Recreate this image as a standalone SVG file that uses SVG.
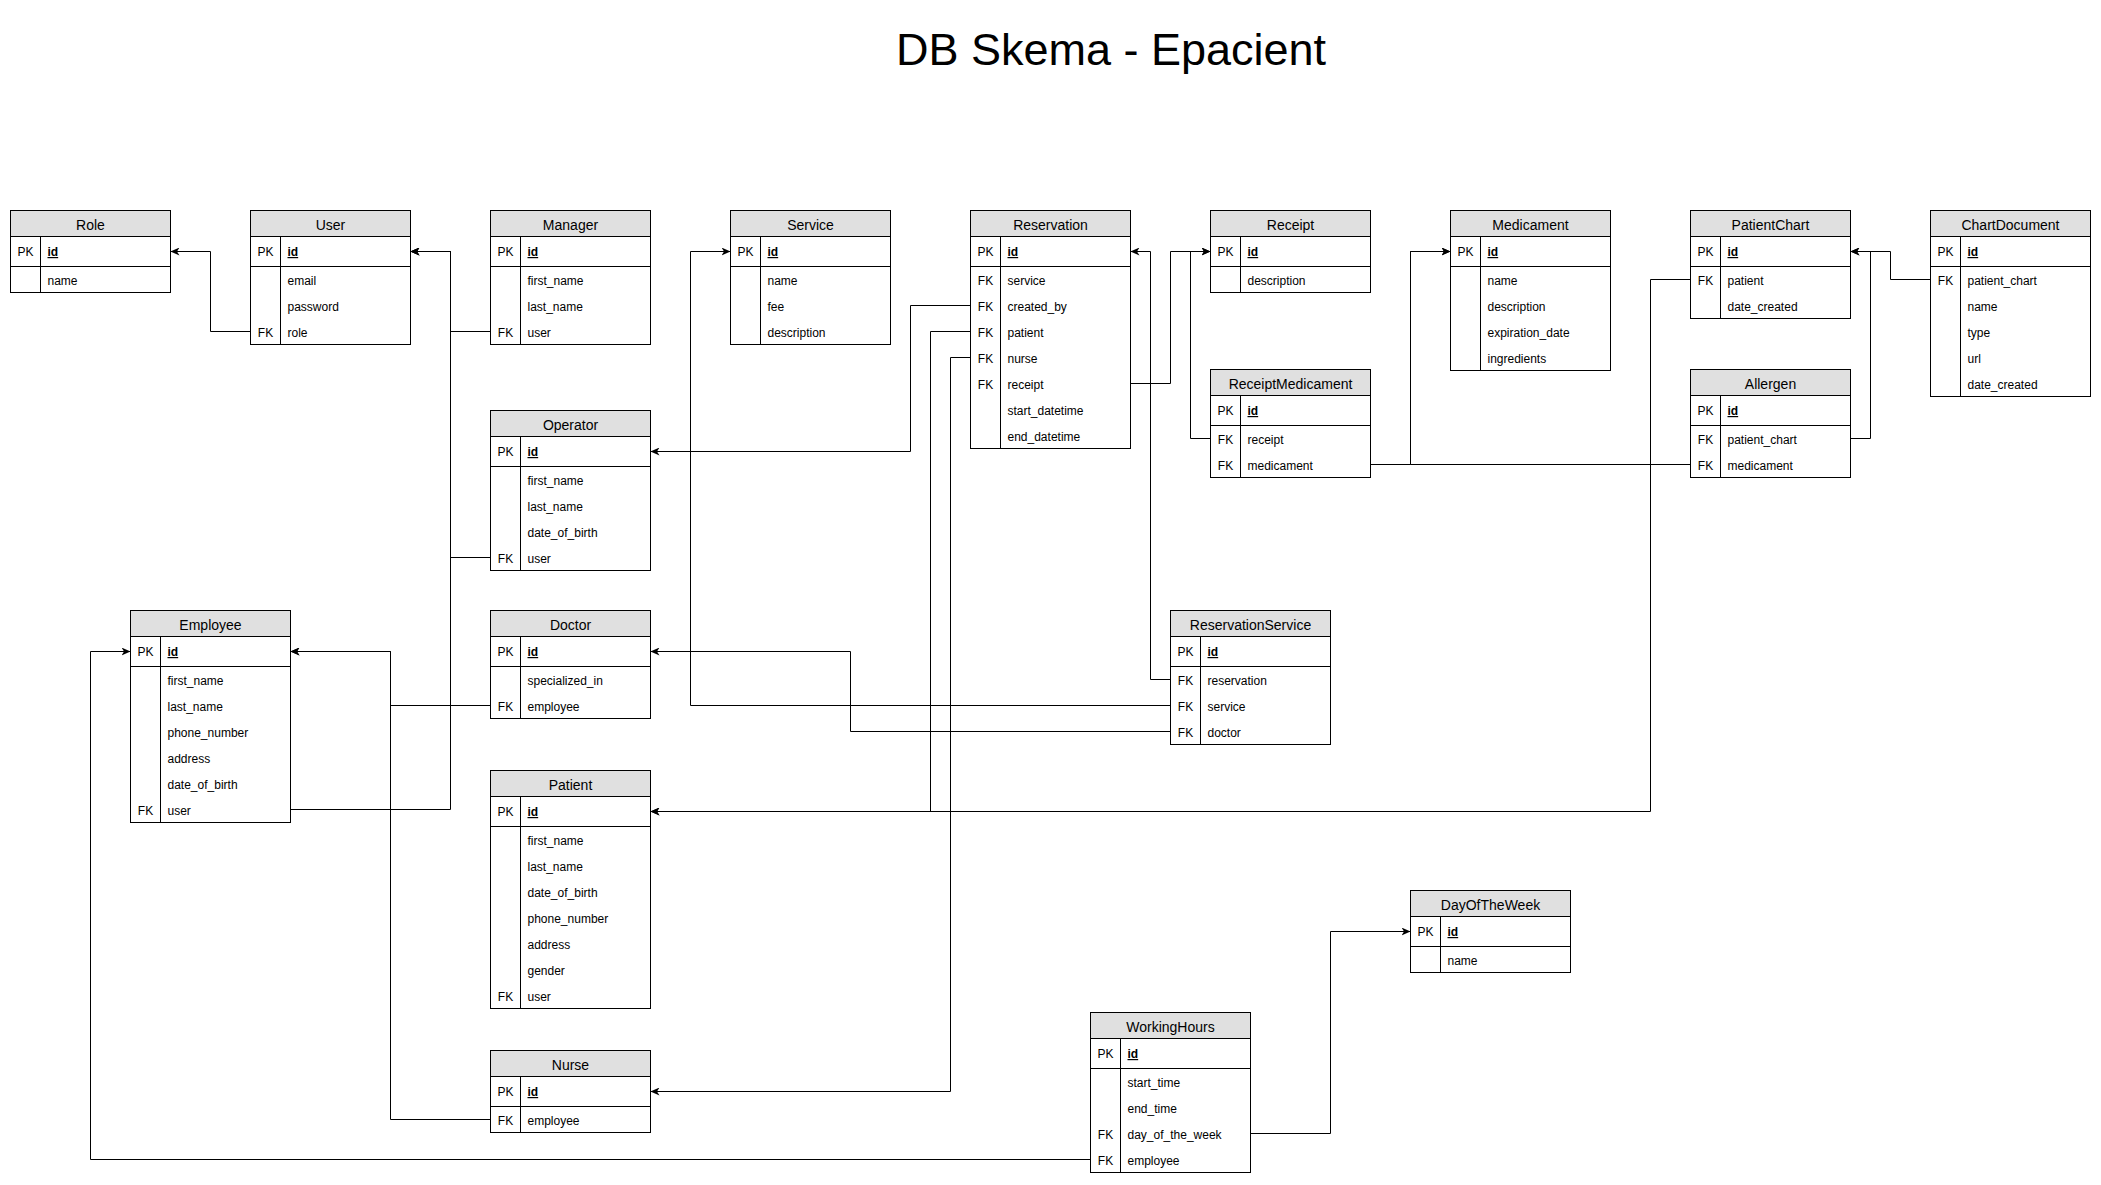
<svg xmlns="http://www.w3.org/2000/svg" width="2101" height="1185" viewBox="0 0 2101 1185">
<style>
.bg{fill:#fff}
.box{fill:#fff;stroke:#000;stroke-width:1}
.hdr{fill:#e0e0e0;stroke:#000;stroke-width:1}
.ln{stroke:#000;stroke-width:1;fill:none}
text{font-family:"Liberation Sans",Arial,Helvetica,sans-serif;fill:#000}
.h{font-size:14px;text-anchor:middle}
.k{font-size:12px;text-anchor:middle}
.f{font-size:12px}
.pk{font-size:12px;font-weight:bold;text-decoration:underline}
.title{font-size:45px;text-anchor:middle}
.edge{fill:none;stroke:#000;stroke-width:1;marker-end:url(#arr)}
</style>
<defs>
<marker id="arr" markerUnits="userSpaceOnUse" viewBox="0 0 9 8" refX="9" refY="4" markerWidth="9" markerHeight="8" orient="auto">
<path d="M0,0 L9,4 L0,8 L2.5,4 Z" fill="#000"/>
</marker>
</defs>
<rect class="bg" x="0" y="0" width="2101" height="1185"/>
<text class="title" x="1111" y="65">DB Skema - Epacient</text>
<g transform="translate(0.5,0.5)">
<g id="role" transform="translate(10,210)">
<rect class="box" width="160" height="82"/><rect class="hdr" width="160" height="26"/>
<line class="ln" x1="0" y1="56" x2="160" y2="56"/><line class="ln" x1="30" y1="26" x2="30" y2="82"/>
<text class="h" x="80" y="19">Role</text>
<text class="k" x="15" y="45.5">PK</text><text class="pk" x="37" y="45.5">id</text>
<text class="f" x="37" y="74.5">name</text>
</g>
<g id="user" transform="translate(250,210)">
<rect class="box" width="160" height="134"/><rect class="hdr" width="160" height="26"/>
<line class="ln" x1="0" y1="56" x2="160" y2="56"/><line class="ln" x1="30" y1="26" x2="30" y2="134"/>
<text class="h" x="80" y="19">User</text>
<text class="k" x="15" y="45.5">PK</text><text class="pk" x="37" y="45.5">id</text>
<text class="f" x="37" y="74.5">email</text>
<text class="f" x="37" y="100.5">password</text>
<text class="k" x="15" y="126.5">FK</text><text class="f" x="37" y="126.5">role</text>
</g>
<g id="manager" transform="translate(490,210)">
<rect class="box" width="160" height="134"/><rect class="hdr" width="160" height="26"/>
<line class="ln" x1="0" y1="56" x2="160" y2="56"/><line class="ln" x1="30" y1="26" x2="30" y2="134"/>
<text class="h" x="80" y="19">Manager</text>
<text class="k" x="15" y="45.5">PK</text><text class="pk" x="37" y="45.5">id</text>
<text class="f" x="37" y="74.5">first_name</text>
<text class="f" x="37" y="100.5">last_name</text>
<text class="k" x="15" y="126.5">FK</text><text class="f" x="37" y="126.5">user</text>
</g>
<g id="service" transform="translate(730,210)">
<rect class="box" width="160" height="134"/><rect class="hdr" width="160" height="26"/>
<line class="ln" x1="0" y1="56" x2="160" y2="56"/><line class="ln" x1="30" y1="26" x2="30" y2="134"/>
<text class="h" x="80" y="19">Service</text>
<text class="k" x="15" y="45.5">PK</text><text class="pk" x="37" y="45.5">id</text>
<text class="f" x="37" y="74.5">name</text>
<text class="f" x="37" y="100.5">fee</text>
<text class="f" x="37" y="126.5">description</text>
</g>
<g id="reservation" transform="translate(970,210)">
<rect class="box" width="160" height="238"/><rect class="hdr" width="160" height="26"/>
<line class="ln" x1="0" y1="56" x2="160" y2="56"/><line class="ln" x1="30" y1="26" x2="30" y2="238"/>
<text class="h" x="80" y="19">Reservation</text>
<text class="k" x="15" y="45.5">PK</text><text class="pk" x="37" y="45.5">id</text>
<text class="k" x="15" y="74.5">FK</text><text class="f" x="37" y="74.5">service</text>
<text class="k" x="15" y="100.5">FK</text><text class="f" x="37" y="100.5">created_by</text>
<text class="k" x="15" y="126.5">FK</text><text class="f" x="37" y="126.5">patient</text>
<text class="k" x="15" y="152.5">FK</text><text class="f" x="37" y="152.5">nurse</text>
<text class="k" x="15" y="178.5">FK</text><text class="f" x="37" y="178.5">receipt</text>
<text class="f" x="37" y="204.5">start_datetime</text>
<text class="f" x="37" y="230.5">end_datetime</text>
</g>
<g id="receipt" transform="translate(1210,210)">
<rect class="box" width="160" height="82"/><rect class="hdr" width="160" height="26"/>
<line class="ln" x1="0" y1="56" x2="160" y2="56"/><line class="ln" x1="30" y1="26" x2="30" y2="82"/>
<text class="h" x="80" y="19">Receipt</text>
<text class="k" x="15" y="45.5">PK</text><text class="pk" x="37" y="45.5">id</text>
<text class="f" x="37" y="74.5">description</text>
</g>
<g id="medicament" transform="translate(1450,210)">
<rect class="box" width="160" height="160"/><rect class="hdr" width="160" height="26"/>
<line class="ln" x1="0" y1="56" x2="160" y2="56"/><line class="ln" x1="30" y1="26" x2="30" y2="160"/>
<text class="h" x="80" y="19">Medicament</text>
<text class="k" x="15" y="45.5">PK</text><text class="pk" x="37" y="45.5">id</text>
<text class="f" x="37" y="74.5">name</text>
<text class="f" x="37" y="100.5">description</text>
<text class="f" x="37" y="126.5">expiration_date</text>
<text class="f" x="37" y="152.5">ingredients</text>
</g>
<g id="patientchart" transform="translate(1690,210)">
<rect class="box" width="160" height="108"/><rect class="hdr" width="160" height="26"/>
<line class="ln" x1="0" y1="56" x2="160" y2="56"/><line class="ln" x1="30" y1="26" x2="30" y2="108"/>
<text class="h" x="80" y="19">PatientChart</text>
<text class="k" x="15" y="45.5">PK</text><text class="pk" x="37" y="45.5">id</text>
<text class="k" x="15" y="74.5">FK</text><text class="f" x="37" y="74.5">patient</text>
<text class="f" x="37" y="100.5">date_created</text>
</g>
<g id="chartdocument" transform="translate(1930,210)">
<rect class="box" width="160" height="186"/><rect class="hdr" width="160" height="26"/>
<line class="ln" x1="0" y1="56" x2="160" y2="56"/><line class="ln" x1="30" y1="26" x2="30" y2="186"/>
<text class="h" x="80" y="19">ChartDocument</text>
<text class="k" x="15" y="45.5">PK</text><text class="pk" x="37" y="45.5">id</text>
<text class="k" x="15" y="74.5">FK</text><text class="f" x="37" y="74.5">patient_chart</text>
<text class="f" x="37" y="100.5">name</text>
<text class="f" x="37" y="126.5">type</text>
<text class="f" x="37" y="152.5">url</text>
<text class="f" x="37" y="178.5">date_created</text>
</g>
<g id="receiptmedicament" transform="translate(1210,369)">
<rect class="box" width="160" height="108"/><rect class="hdr" width="160" height="26"/>
<line class="ln" x1="0" y1="56" x2="160" y2="56"/><line class="ln" x1="30" y1="26" x2="30" y2="108"/>
<text class="h" x="80" y="19">ReceiptMedicament</text>
<text class="k" x="15" y="45.5">PK</text><text class="pk" x="37" y="45.5">id</text>
<text class="k" x="15" y="74.5">FK</text><text class="f" x="37" y="74.5">receipt</text>
<text class="k" x="15" y="100.5">FK</text><text class="f" x="37" y="100.5">medicament</text>
</g>
<g id="allergen" transform="translate(1690,369)">
<rect class="box" width="160" height="108"/><rect class="hdr" width="160" height="26"/>
<line class="ln" x1="0" y1="56" x2="160" y2="56"/><line class="ln" x1="30" y1="26" x2="30" y2="108"/>
<text class="h" x="80" y="19">Allergen</text>
<text class="k" x="15" y="45.5">PK</text><text class="pk" x="37" y="45.5">id</text>
<text class="k" x="15" y="74.5">FK</text><text class="f" x="37" y="74.5">patient_chart</text>
<text class="k" x="15" y="100.5">FK</text><text class="f" x="37" y="100.5">medicament</text>
</g>
<g id="operator" transform="translate(490,410)">
<rect class="box" width="160" height="160"/><rect class="hdr" width="160" height="26"/>
<line class="ln" x1="0" y1="56" x2="160" y2="56"/><line class="ln" x1="30" y1="26" x2="30" y2="160"/>
<text class="h" x="80" y="19">Operator</text>
<text class="k" x="15" y="45.5">PK</text><text class="pk" x="37" y="45.5">id</text>
<text class="f" x="37" y="74.5">first_name</text>
<text class="f" x="37" y="100.5">last_name</text>
<text class="f" x="37" y="126.5">date_of_birth</text>
<text class="k" x="15" y="152.5">FK</text><text class="f" x="37" y="152.5">user</text>
</g>
<g id="employee" transform="translate(130,610)">
<rect class="box" width="160" height="212"/><rect class="hdr" width="160" height="26"/>
<line class="ln" x1="0" y1="56" x2="160" y2="56"/><line class="ln" x1="30" y1="26" x2="30" y2="212"/>
<text class="h" x="80" y="19">Employee</text>
<text class="k" x="15" y="45.5">PK</text><text class="pk" x="37" y="45.5">id</text>
<text class="f" x="37" y="74.5">first_name</text>
<text class="f" x="37" y="100.5">last_name</text>
<text class="f" x="37" y="126.5">phone_number</text>
<text class="f" x="37" y="152.5">address</text>
<text class="f" x="37" y="178.5">date_of_birth</text>
<text class="k" x="15" y="204.5">FK</text><text class="f" x="37" y="204.5">user</text>
</g>
<g id="doctor" transform="translate(490,610)">
<rect class="box" width="160" height="108"/><rect class="hdr" width="160" height="26"/>
<line class="ln" x1="0" y1="56" x2="160" y2="56"/><line class="ln" x1="30" y1="26" x2="30" y2="108"/>
<text class="h" x="80" y="19">Doctor</text>
<text class="k" x="15" y="45.5">PK</text><text class="pk" x="37" y="45.5">id</text>
<text class="f" x="37" y="74.5">specialized_in</text>
<text class="k" x="15" y="100.5">FK</text><text class="f" x="37" y="100.5">employee</text>
</g>
<g id="reservationservice" transform="translate(1170,610)">
<rect class="box" width="160" height="134"/><rect class="hdr" width="160" height="26"/>
<line class="ln" x1="0" y1="56" x2="160" y2="56"/><line class="ln" x1="30" y1="26" x2="30" y2="134"/>
<text class="h" x="80" y="19">ReservationService</text>
<text class="k" x="15" y="45.5">PK</text><text class="pk" x="37" y="45.5">id</text>
<text class="k" x="15" y="74.5">FK</text><text class="f" x="37" y="74.5">reservation</text>
<text class="k" x="15" y="100.5">FK</text><text class="f" x="37" y="100.5">service</text>
<text class="k" x="15" y="126.5">FK</text><text class="f" x="37" y="126.5">doctor</text>
</g>
<g id="patient" transform="translate(490,770)">
<rect class="box" width="160" height="238"/><rect class="hdr" width="160" height="26"/>
<line class="ln" x1="0" y1="56" x2="160" y2="56"/><line class="ln" x1="30" y1="26" x2="30" y2="238"/>
<text class="h" x="80" y="19">Patient</text>
<text class="k" x="15" y="45.5">PK</text><text class="pk" x="37" y="45.5">id</text>
<text class="f" x="37" y="74.5">first_name</text>
<text class="f" x="37" y="100.5">last_name</text>
<text class="f" x="37" y="126.5">date_of_birth</text>
<text class="f" x="37" y="152.5">phone_number</text>
<text class="f" x="37" y="178.5">address</text>
<text class="f" x="37" y="204.5">gender</text>
<text class="k" x="15" y="230.5">FK</text><text class="f" x="37" y="230.5">user</text>
</g>
<g id="nurse" transform="translate(490,1050)">
<rect class="box" width="160" height="82"/><rect class="hdr" width="160" height="26"/>
<line class="ln" x1="0" y1="56" x2="160" y2="56"/><line class="ln" x1="30" y1="26" x2="30" y2="82"/>
<text class="h" x="80" y="19">Nurse</text>
<text class="k" x="15" y="45.5">PK</text><text class="pk" x="37" y="45.5">id</text>
<text class="k" x="15" y="74.5">FK</text><text class="f" x="37" y="74.5">employee</text>
</g>
<g id="dayoftheweek" transform="translate(1410,890)">
<rect class="box" width="160" height="82"/><rect class="hdr" width="160" height="26"/>
<line class="ln" x1="0" y1="56" x2="160" y2="56"/><line class="ln" x1="30" y1="26" x2="30" y2="82"/>
<text class="h" x="80" y="19">DayOfTheWeek</text>
<text class="k" x="15" y="45.5">PK</text><text class="pk" x="37" y="45.5">id</text>
<text class="f" x="37" y="74.5">name</text>
</g>
<g id="workinghours" transform="translate(1090,1012)">
<rect class="box" width="160" height="160"/><rect class="hdr" width="160" height="26"/>
<line class="ln" x1="0" y1="56" x2="160" y2="56"/><line class="ln" x1="30" y1="26" x2="30" y2="160"/>
<text class="h" x="80" y="19">WorkingHours</text>
<text class="k" x="15" y="45.5">PK</text><text class="pk" x="37" y="45.5">id</text>
<text class="f" x="37" y="74.5">start_time</text>
<text class="f" x="37" y="100.5">end_time</text>
<text class="k" x="15" y="126.5">FK</text><text class="f" x="37" y="126.5">day_of_the_week</text>
<text class="k" x="15" y="152.5">FK</text><text class="f" x="37" y="152.5">employee</text>
</g>
<g id="connectors">
<path class="edge" d="M250,331 H210 V251 H170"/>
<path class="edge" d="M490,331 H450 V251 H410"/>
<path class="edge" d="M490,557 H450 V251 H410"/>
<path class="edge" d="M290,809 H450 V251 H410"/>
<path class="edge" d="M490,705 H390 V651 H290"/>
<path class="edge" d="M490,1119 H390 V651 H290"/>
<path class="edge" d="M1090,1159 H90 V651 H130"/>
<path class="edge" d="M1250,1133 H1330 V931 H1410"/>
<path class="edge" d="M970,305 H910 V451 H650"/>
<path class="edge" d="M970,331 H930 V811 H650"/>
<path class="edge" d="M1690,279 H1650 V811 H650"/>
<path class="edge" d="M970,357 H950 V1091 H650"/>
<path class="edge" d="M1130,383 H1170 V251 H1210"/>
<path class="edge" d="M1210,438 H1190 V251 H1210"/>
<path class="edge" d="M1170,679 H1150 V251 H1130"/>
<path class="edge" d="M1170,705 H690 V251 H730"/>
<path class="edge" d="M1170,731 H850 V651 H650"/>
<path class="edge" d="M1370,464 H1410 V251 H1450"/>
<path class="edge" d="M1690,464 H1410 V251 H1450"/>
<path class="edge" d="M1850,438 H1870 V251 H1850"/>
<path class="edge" d="M1930,279 H1890 V251 H1850"/>
</g>
</g>
</svg>
